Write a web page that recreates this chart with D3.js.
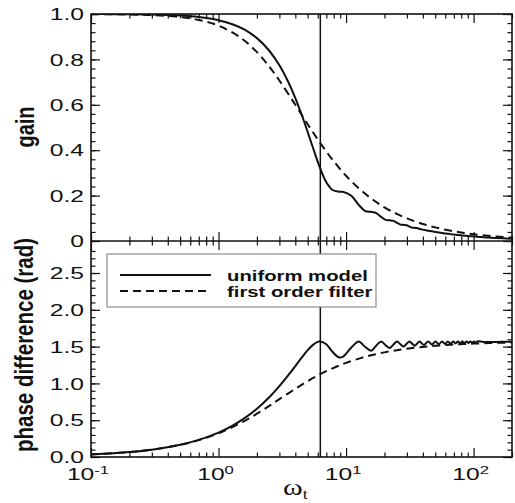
<!DOCTYPE html>
<html lang="en">
<head>
<meta charset="utf-8">
<title>gain / phase difference</title>
<script src="https://cdn.jsdelivr.net/npm/d3@7/dist/d3.min.js"></script>
<style>
body { margin: 0; background: #fff; }
</style>
</head>
<body>
<script>
// values
var wUniform = [0.1, 0.15, 0.2, 0.3, 0.5, 0.7, 1.0, 1.3, 1.6, 2.0, 2.5, 3.0, 3.5, 4.0, 4.5, 5.0, 5.5, 6.0, 6.283,
  7.0, 7.854, 8.75, 9.425, 10.996, 12.566, 14.137, 15.708, 17.279, 18.850, 20.420, 21.991, 23.562, 25.133,
  26.704, 28.274, 29.845, 31.416, 32.987, 34.558, 36.128, 37.699,
  40.841, 43.982, 47.124, 50.265, 53.407, 56.549, 59.690, 62.832, 65.973, 69.115, 72.257, 75.398,
  78.540, 81.681, 84.823, 87.965, 91.106, 94.248, 97.389, 100.531, 103.673, 106.814, 120, 150, 200];
var gainUniform = [0.9997, 0.9994, 0.9989, 0.9975, 0.9931, 0.9865, 0.9725, 0.9539, 0.9309, 0.8937, 0.8381, 0.7741, 0.7037, 0.6295, 0.5541, 0.4802, 0.4107, 0.3489, 0.3183,
  0.2591, 0.2246, 0.2173, 0.2169, 0.1991, 0.1592, 0.1318, 0.1284, 0.1226, 0.1061, 0.0933, 0.0913, 0.0886, 0.0796,
  0.0721, 0.0709, 0.0693, 0.0637, 0.0588, 0.0580, 0.0569, 0.0531,
  0.0490, 0.0455, 0.0425, 0.0398, 0.0375, 0.0354, 0.0335, 0.0318, 0.0303, 0.0289, 0.0277, 0.0265,
  0.0255, 0.0245, 0.0236, 0.0227, 0.0220, 0.0212, 0.0205, 0.0199, 0.0193, 0.0187, 0.0167, 0.0133, 0.0100];
var phaseUniform = [0.0333, 0.0500, 0.0667, 0.1000, 0.1665, 0.2329, 0.3320, 0.4306, 0.5281, 0.6563, 0.8125, 0.9627, 1.1049, 1.2362, 1.3533, 1.4512, 1.5239, 1.5645, 1.5708,
  1.5320, 1.4259, 1.3550, 1.3617, 1.4876, 1.5708, 1.4948, 1.4442, 1.5161, 1.5708, 1.5194, 1.4801, 1.5301, 1.5708,
  1.5319, 1.5002, 1.5384, 1.5708, 1.5395, 1.5130, 1.5439, 1.5708,
  1.5219, 1.5708, 1.5284, 1.5708, 1.5334, 1.5708, 1.5373, 1.5708, 1.5405, 1.5708, 1.5431, 1.5708,
  1.5453, 1.5708, 1.5472, 1.5708, 1.5489, 1.5708, 1.5503, 1.5708, 1.5515, 1.5708, 1.5625, 1.5641, 1.5658];

var wFilter = [0.1, 0.2, 0.3, 0.5, 0.7, 1, 1.5, 2, 2.5, 3, 4, 5, 6.283, 8, 10, 13, 16, 20, 25, 30, 40, 50, 65, 80, 100, 130, 160, 200];
var gainFilter = [0.9994, 0.9978, 0.9950, 0.9864, 0.9738, 0.9487, 0.8944, 0.8321, 0.7682, 0.7071, 0.6000, 0.5145, 0.4309, 0.3511,
  0.2874, 0.2249, 0.1843, 0.1483, 0.1192, 0.0995, 0.0748, 0.0599, 0.0461, 0.0375, 0.0300, 0.0231, 0.0187, 0.0150];
var phaseFilter = [0.0333, 0.0666, 0.0997, 0.1651, 0.2292, 0.3218, 0.4636, 0.5880, 0.6947, 0.7854, 0.9273, 1.0304, 1.1253, 1.2120,
  1.2793, 1.3440, 1.3855, 1.4219, 1.4514, 1.4711, 1.4959, 1.5109, 1.5247, 1.5333, 1.5408, 1.5477, 1.5521, 1.5558];

var wMarker = 6.283;

var gainTicks = [0, 0.2, 0.4, 0.6, 0.8, 1.0];
var gainTickLabels = ["0", "0.2", "0.4", "0.6", "0.8", "1.0"];
var phaseTicks = [0, 0.5, 1.0, 1.5, 2.0, 2.5];
var phaseTickLabels = ["0.0", "0.5", "1.0", "1.5", "2.0", "2.5"];
var xTicks = [0.1, 1, 10, 100];
var xTickExp = ["-1", "0", "1", "2"];
var legendLabels = ["uniform model", "first order filter"];

var L = 91, R = 512, T = 14, M = 241, B = 457;
var sx = 1.45; // the figure is stretched sideways

var svg = d3.select("body").append("svg").attr("width", 515).attr("height", 503);

var x = d3.scaleLog().domain([0.1, 200]).range([L, R]);
var yG = d3.scaleLinear().domain([0, 1]).range([M, T]);
var yP = d3.scaleLinear().domain([0, 2.935]).range([B, M]);

var xMinor = x.ticks().filter(function(d) { return xTicks.indexOf(d) < 0; });
var gainMinor = d3.range(0, 1.0001, 0.04);
var phaseMinor = d3.range(0, 2.9, 0.1);

function ticks(axis, vals, size, tx, ty) {
  var g = svg.append("g").attr("transform", "translate(" + tx + "," + ty + ")")
    .call(axis.tickValues(vals).tickSize(-size).tickFormat(""));
  g.select(".domain").remove();
  g.selectAll("line").attr("stroke", "#111").attr("stroke-width", 1.2);
}

// y ticks, both sides, inward
[[yG, gainTicks, gainMinor], [yP, phaseTicks, phaseMinor]].forEach(function(p) {
  ticks(d3.axisLeft(p[0]), p[1], 9, L, 0);
  ticks(d3.axisLeft(p[0]), p[2], 4.5, L, 0);
  ticks(d3.axisRight(p[0]), p[1], 9, R, 0);
  ticks(d3.axisRight(p[0]), p[2], 4.5, R, 0);
});

// x ticks on every horizontal edge
ticks(d3.axisTop(x), xTicks, 9, 0, T);
ticks(d3.axisTop(x), xMinor, 4.5, 0, T);
ticks(d3.axisBottom(x), xTicks, 9, 0, M);
ticks(d3.axisBottom(x), xMinor, 4.5, 0, M);
ticks(d3.axisTop(x), xTicks, 9, 0, M);
ticks(d3.axisTop(x), xMinor, 4.5, 0, M);
ticks(d3.axisBottom(x), xTicks, 9, 0, B);
ticks(d3.axisBottom(x), xMinor, 4.5, 0, B);

// frame
svg.append("rect").attr("x", L).attr("y", T).attr("width", R - L).attr("height", B - T)
  .attr("fill", "none").attr("stroke", "#111").attr("stroke-width", 1.6);
svg.append("line").attr("x1", L).attr("x2", R).attr("y1", M).attr("y2", M)
  .attr("stroke", "#111").attr("stroke-width", 1.6);

// clip regions
var defs = svg.append("defs");
defs.append("clipPath").attr("id", "cTop").append("rect").attr("x", L).attr("y", T).attr("width", R - L).attr("height", M - T);
defs.append("clipPath").attr("id", "cBot").append("rect").attr("x", L).attr("y", M).attr("width", R - L).attr("height", B - M);

function drawCurve(ws, vs, yscale, clip, dashed) {
  var line = d3.line()
    .x(function(d, i) { return x(ws[i]); })
    .y(function(d) { return yscale(d); })
    .curve(d3.curveCatmullRom.alpha(0.5));
  svg.append("path").attr("d", line(vs)).attr("clip-path", "url(#" + clip + ")")
    .attr("fill", "none").attr("stroke", "#111").attr("stroke-width", 2)
    .attr("stroke-dasharray", dashed ? "8,5" : null);
}
drawCurve(wFilter, gainFilter, yG, "cTop", true);
drawCurve(wUniform, gainUniform, yG, "cTop", false);
drawCurve(wFilter, phaseFilter, yP, "cBot", true);
drawCurve(wUniform, phaseUniform, yP, "cBot", false);

// marker line
svg.append("line").attr("x1", x(wMarker)).attr("x2", x(wMarker)).attr("y1", T).attr("y2", B)
  .attr("stroke", "#111").attr("stroke-width", 1.5);

// tick labels
var font = "'Liberation Sans', Arial, Helvetica, sans-serif";
function yLabels(scale, vals, labels) {
  svg.selectAll(null).data(vals).enter().append("text")
    .attr("transform", function(d) { return "translate(84," + scale(d) + ") scale(" + sx + ",1)"; })
    .attr("dy", "0.36em").attr("text-anchor", "end")
    .attr("font-family", font).attr("font-size", 17).attr("fill", "#111")
    .text(function(d, i) { return labels[i]; });
}
yLabels(yG, gainTicks, gainTickLabels);
yLabels(yP, phaseTicks, phaseTickLabels);

var xl = svg.selectAll(null).data(xTicks).enter().append("text")
  .attr("transform", function(d) { return "translate(" + (x(d) - 3) + ",480) scale(" + sx + ",1)"; })
  .attr("text-anchor", "middle").attr("font-family", font).attr("font-size", 17).attr("fill", "#111");
xl.append("tspan").text("10");
xl.append("tspan").attr("font-size", 11.5).attr("dy", -6.5).text(function(d, i) { return xTickExp[i]; });

// axis titles
svg.append("text").attr("transform", "translate(34,127) scale(1.3,1) rotate(-90)")
  .attr("text-anchor", "middle").attr("font-family", font).attr("font-weight", "bold")
  .attr("font-size", 20).attr("fill", "#111").text("gain");
svg.append("text").attr("transform", "translate(33,345) scale(1.3,1) rotate(-90)")
  .attr("text-anchor", "middle").attr("font-family", font).attr("font-weight", "bold")
  .attr("font-size", 20.5).attr("fill", "#111").text("phase difference (rad)");

var xt = svg.append("text").attr("transform", "translate(283,495) scale(1.3,1)")
  .attr("font-family", "'Liberation Serif', 'Times New Roman', serif").attr("font-size", 23).attr("fill", "#111");
xt.append("tspan").text("\u03c9");
xt.append("tspan").attr("font-size", 14).attr("dy", 4).text("t");

// legend
var lg = svg.append("g");
lg.append("rect").attr("x", 107).attr("y", 254).attr("width", 269).attr("height", 53)
  .attr("fill", "#fff").attr("stroke", "#777").attr("stroke-width", 1);
legendLabels.forEach(function(t, i) {
  var yy = 275 + i * 16;
  lg.append("line").attr("x1", 120).attr("x2", 211).attr("y1", yy).attr("y2", yy)
    .attr("stroke", "#111").attr("stroke-width", 2).attr("stroke-dasharray", i ? "8,5" : null);
  lg.append("text").attr("transform", "translate(227," + (yy + 5.5) + ") scale(1.45,1)")
    .attr("font-family", font).attr("font-weight", "bold").attr("font-size", 14).attr("fill", "#111")
    .text(t);
});
</script>
</body>
</html>
